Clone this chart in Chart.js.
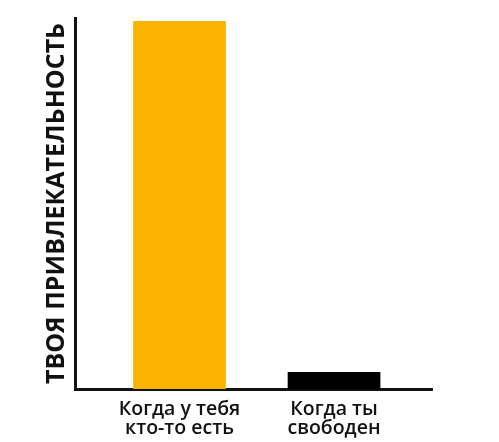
<!DOCTYPE html>
<html>
<head>
<meta charset="utf-8">
<script src="https://cdn.jsdelivr.net/npm/chart.js@4"></script>
<style>
  html, body { margin: 0; padding: 0; background: #fff; }
  #wrap { width: 499px; height: 442px; }
</style>
</head>
<body>
<div id="wrap"><canvas id="c"></canvas></div>
<script>
const categories = [['Когда у тебя', 'кто-то есть'], ['Когда ты', 'свободен']];
const positions = [1, 2];
const values = [99.2, 4.6];
const barColors = ['#F9B300', '#000000'];
const yTitle = 'ТВОЯ ПРИВЛЕКАТЕЛЬНОСТЬ';

const ctx = document.getElementById('c');
new Chart(ctx, {
    type: 'bar',
    data: {
        datasets: [{
            data: positions.map((p, i) => ({ x: p, y: values[i] })),
            backgroundColor: barColors,
            borderWidth: 0,
            barPercentage: 0.6,
            categoryPercentage: 1
        }]
    },
    options: {
        responsive: true,
        maintainAspectRatio: false,
        animation: false,
        layout: { padding: { top: 18, right: 67, left: 0, bottom: 0 } },
        plugins: { legend: { display: false }, tooltip: { enabled: false } },
        scales: {
            x: {
                type: 'linear',
                offset: false,
                min: 0.3236,
                max: 2.634,
                grid: { display: false },
                border: { display: true, color: '#111', width: 3 },
                afterBuildTicks: (scale) => { scale.ticks = positions.map(v => ({ value: v })); },
                afterFit: (scale) => { scale.height = 53; },
                ticks: {
                    autoSkip: false,
                    maxRotation: 0,
                    padding: 3,
                    color: '#111',
                    font: { family: 'Open Sans', size: 19.5, weight: '600', lineHeight: 0.96 },
                    callback: (v) => {
                        const i = positions.indexOf(v);
                        return i >= 0 ? categories[i] : '';
                    }
                }
            },
            y: {
                min: 0,
                max: 100,
                grid: { display: false },
                border: { display: true, color: '#111', width: 3 },
                ticks: { display: false },
                afterFit: (scale) => { scale.width = 75; },
                title: {
                    display: true,
                    text: yTitle,
                    color: '#111',
                    padding: { top: 42, bottom: 0 },
                    font: { family: 'Open Sans', size: 25, weight: 'bold', lineHeight: 1.2 }
                }
            }
        }
    }
});
</script>
</body>
</html>
